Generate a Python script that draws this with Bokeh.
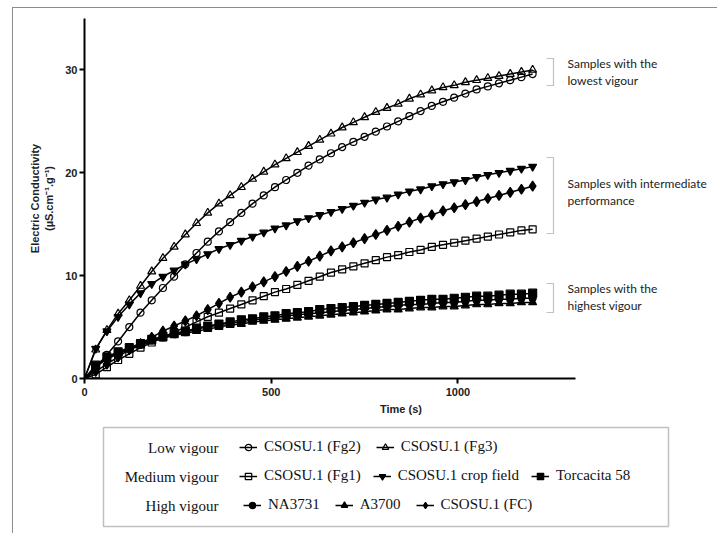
from bokeh.plotting import figure
from bokeh.layouts import column
from bokeh.models import (Legend, LegendItem, Label, PolyAnnotation, BoxAnnotation,
                          Range1d, FixedTicker, InlineStyleSheet)
from bokeh.embed import file_html
from bokeh.resources import INLINE

# ---------------- data ----------------
time_s = list(range(0, 1201, 30))

fg2 = [0, 1.0, 2.3, 3.6, 5.0, 6.4, 7.6, 8.8, 9.9, 11.1, 12.2, 13.3, 14.3, 15.2, 16.1, 17.0,
       17.8, 18.6, 19.3, 20.0, 20.7, 21.3, 21.9, 22.5, 23.0, 23.5, 24.0, 24.5, 25.0, 25.5,
       26.0, 26.5, 26.9, 27.3, 27.7, 28.1, 28.4, 28.7, 29.0, 29.3, 29.6]
fg3 = [0, 2.8, 4.7, 6.3, 7.6, 9.0, 10.4, 11.7, 12.8, 14.0, 15.1, 16.1, 17.0, 17.8, 18.6, 19.4,
       20.1, 20.8, 21.4, 22.0, 22.6, 23.2, 23.8, 24.4, 24.9, 25.4, 25.9, 26.3, 26.7, 27.2,
       27.6, 28.0, 28.3, 28.5, 28.8, 29.0, 29.2, 29.4, 29.6, 29.8, 30.0]
fg1 = [0, 0.4, 1.1, 1.8, 2.4, 3.0, 3.5, 4.0, 4.5, 5.0, 5.5, 6.0, 6.4, 6.8, 7.2, 7.6, 8.0,
       8.4, 8.7, 9.1, 9.5, 9.9, 10.3, 10.6, 10.9, 11.2, 11.5, 11.8, 12.0, 12.3, 12.5, 12.8,
       13.0, 13.2, 13.4, 13.6, 13.8, 14.0, 14.2, 14.4, 14.5]
crop_field = [0, 2.9, 4.6, 6.0, 7.2, 8.3, 9.2, 9.9, 10.5, 11.1, 11.6, 12.1, 12.6, 13.0, 13.4,
              13.8, 14.2, 14.6, 14.9, 15.3, 15.6, 15.9, 16.2, 16.5, 16.8, 17.1, 17.4, 17.6,
              17.9, 18.2, 18.4, 18.7, 18.9, 19.1, 19.3, 19.6, 19.8, 20.0, 20.2, 20.4, 20.6]
torcacita = [0, 1.3, 2.1, 2.6, 3.0, 3.4, 3.8, 4.1, 4.4, 4.6, 4.9, 5.1, 5.3, 5.5, 5.7, 5.8,
             6.0, 6.1, 6.3, 6.4, 6.5, 6.7, 6.8, 6.9, 7.0, 7.1, 7.2, 7.3, 7.4, 7.5, 7.6, 7.7,
             7.7, 7.8, 7.9, 8.0, 8.0, 8.1, 8.2, 8.2, 8.3]
na3731 = [0, 1.2, 2.0, 2.5, 2.9, 3.3, 3.7, 4.0, 4.3, 4.5, 4.8, 5.0, 5.2, 5.4, 5.5, 5.7, 5.8,
          5.9, 6.1, 6.2, 6.3, 6.4, 6.5, 6.6, 6.7, 6.8, 6.9, 7.0, 7.1, 7.2, 7.2, 7.3, 7.4, 7.4,
          7.5, 7.6, 7.6, 7.7, 7.7, 7.8, 7.8]
a3700 = [0, 1.1, 1.9, 2.4, 2.8, 3.2, 3.6, 3.9, 4.2, 4.4, 4.6, 4.8, 5.0, 5.2, 5.3, 5.5, 5.6,
         5.7, 5.8, 5.9, 6.0, 6.1, 6.2, 6.3, 6.4, 6.5, 6.6, 6.7, 6.7, 6.8, 6.9, 6.9, 7.0, 7.0,
         7.1, 7.2, 7.2, 7.3, 7.3, 7.4, 7.4]
fc = [0, 0.7, 1.4, 2.1, 2.8, 3.4, 4.0, 4.6, 5.1, 5.6, 6.1, 6.7, 7.3, 7.9, 8.4, 8.9, 9.4, 9.9,
      10.4, 10.9, 11.4, 11.9, 12.4, 12.8, 13.2, 13.6, 14.0, 14.4, 14.8, 15.2, 15.6, 15.9,
      16.3, 16.6, 16.9, 17.2, 17.5, 17.8, 18.1, 18.4, 18.7]

x_ticks = [0, 500, 1000]
y_ticks = [0, 10, 20, 30]

series = [
    ("CSOSU.1 (Fg2)", fg2, "circle", False, 7),
    ("CSOSU.1 (Fg3)", fg3, "triangle", False, 8),
    ("CSOSU.1 (Fg1)", fg1, "square", False, 7),
    ("CSOSU.1 crop field", crop_field, "inverted_triangle", True, 8),
    ("Torcacita 58", torcacita, "square", True, 8),
    ("NA3731", na3731, "circle", True, 7),
    ("A3700", a3700, "triangle", True, 8),
    ("CSOSU.1 (FC)", fc, "diamond", True, 10),
]

rows = [
    ("Low vigour", ["CSOSU.1 (Fg2)", "CSOSU.1 (Fg3)"], 15),
    ("Medium vigour", ["CSOSU.1 (Fg1)", "CSOSU.1 crop field", "Torcacita 58"], 12),
    ("High vigour", ["NA3731", "A3700", "CSOSU.1 (FC)"], 15),
]

notes = [
    ("Samples with the", "lowest vigour"),
    ("Samples with intermediate", "performance"),
    ("Samples with the", "highest vigour"),
]

# ---------------- main figure ----------------
p = figure(width=704, height=412, output_backend="svg", toolbar_location=None,
           x_range=Range1d(0, 1695), y_range=Range1d(0, 35),
           min_border_left=71, min_border_right=0, min_border_top=10,
           min_border_bottom=42)
p.grid.visible = False
p.outline_line_color = None

p.xaxis.ticker = FixedTicker(ticks=x_ticks)
p.yaxis.ticker = FixedTicker(ticks=y_ticks)
p.xaxis.bounds = (0, 1315)
for ax in (p.xaxis, p.yaxis):
    ax.axis_line_width = 2
    ax.axis_line_color = "black"
    ax.major_tick_line_width = 2
    ax.major_tick_in = 0
    ax.major_tick_out = 5
    ax.minor_tick_line_color = None
    ax.major_label_text_font = "Liberation Sans"
    ax.major_label_text_font_style = "bold"
    ax.major_label_text_font_size = "11px"
    ax.major_label_text_color = "#222222"
    ax.axis_label_text_font = "Liberation Sans"
    ax.axis_label_text_font_style = "bold"
    ax.axis_label_text_font_size = "11px"
    ax.axis_label_text_color = "#222222"
p.xaxis.axis_label = "Time (s)"
p.xaxis.axis_label_standoff = 4
p.xaxis.major_label_standoff = 4
p.yaxis.axis_label = "Electric Conductivity\n(\u00b5S.cm\u207b\u00b9.g\u207b\u00b9)"
p.yaxis.axis_label_standoff = 7
p.yaxis.major_label_standoff = 2

for name, vals, marker, filled, size in series:
    p.line(time_s, vals, line_color="black", line_width=1.5)
    p.scatter(time_s, vals, marker=marker, size=size, line_color="black",
              line_width=1.2, fill_color="black" if filled else None)

# brackets & notes at right
brackets = [(320, 293), (221, 145), (95, 66)]
note_y = [(315, 298), (195, 178), (90, 73)]
for (yt, yb), (l1, l2), (y1, y2) in zip(brackets, notes, note_y):
    x0, x1 = 462, 469
    p.add_layout(PolyAnnotation(xs=[x0, x1, x1, x0, x1, x1], ys=[yt, yt, yb, yb, yb, yt],
                                xs_units="screen", ys_units="screen",
                                fill_alpha=0, line_color="#333333", line_width=1.2))
    for txt, yy in ((l1, y1), (l2, y2)):
        p.add_layout(Label(x=483, y=yy, x_units="screen", y_units="screen", text=txt,
                           text_baseline="middle", text_font="Lato",
                           text_font_size="12px", text_color="#222222"))

# ---------------- legend figure (series drawn off-range, only the legend shows) ----------------
q = figure(width=704, height=113, output_backend="svg", toolbar_location=None,
           x_range=Range1d(-20, -10), y_range=Range1d(-20, -10),
           min_border_left=0, min_border_right=0, min_border_top=0, min_border_bottom=0)
q.axis.visible = False
q.grid.visible = False
q.outline_line_color = None

legend_renderers = {}
for name, vals, marker, filled, size in series:
    ln = q.line(time_s, vals, line_color="black", line_width=1.5)
    sc = q.scatter(time_s, vals, marker=marker, size=size - 1, line_color="black",
                   line_width=1.2, fill_color="black" if filled else None)
    legend_renderers[name] = [ln, sc]

q.add_layout(BoxAnnotation(left=19, right=584, top=106, bottom=7,
                           left_units="screen", right_units="screen",
                           top_units="screen", bottom_units="screen",
                           fill_alpha=0, line_color="#333333", line_width=1.5))

row_y = [86, 57, 28]
row_x = [155, 155, 159]
for (header, names, spacing), yy, xx in zip(rows, row_y, row_x):
    q.add_layout(Label(x=134, y=yy, x_units="screen", y_units="screen", text=header,
                       text_align="right", text_baseline="middle",
                       text_font="Liberation Serif", text_font_size="15px",
                       text_color="#111111"))
    leg = Legend(items=[LegendItem(label=n, renderers=legend_renderers[n]) for n in names],
                 orientation="horizontal", location=(xx, yy - 8), spacing=spacing,
                 padding=0, margin=0, border_line_color=None, background_fill_alpha=0,
                 glyph_width=18, glyph_height=16, label_height=16, label_standoff=7,
                 label_text_font="Liberation Serif", label_text_font_size="15px",
                 label_text_color="#111111")
    q.add_layout(leg, "center")

frame_css = InlineStyleSheet(css=":host { border-left: 1px solid #8c8c8c; "
                                 "border-top: 1px solid #8c8c8c; }")
layout = column(p, q, spacing=0, margin=(7, 0, 0, 12), stylesheets=[frame_css])

open("out.html", "w").write(file_html(layout, INLINE))
